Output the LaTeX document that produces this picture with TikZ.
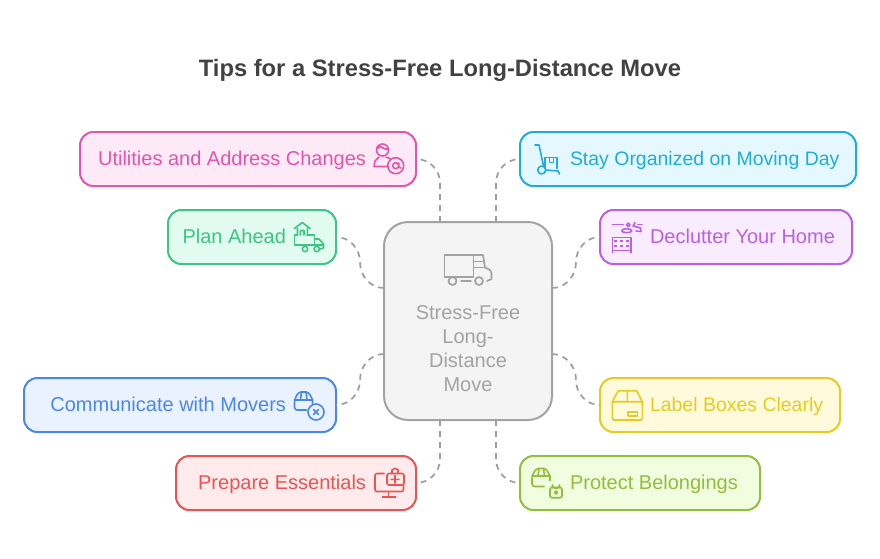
\documentclass[tikz,border=0pt]{standalone}
\usepackage{fontspec}
\setmainfont{Liberation Sans}
\definecolor{pinkline}{HTML}{E255A8}
\definecolor{pinkfill}{HTML}{FEEAF7}
\definecolor{greenline}{HTML}{3CC583}
\definecolor{greenfill}{HTML}{E2FBF0}
\definecolor{cyanline}{HTML}{1EADDA}
\definecolor{cyanfill}{HTML}{E5F8FF}
\definecolor{purpleline}{HTML}{BC5FE2}
\definecolor{purplefill}{HTML}{F9ECFF}
\definecolor{blueline}{HTML}{4A87E8}
\definecolor{bluefill}{HTML}{EBF2FF}
\definecolor{redline}{HTML}{E85454}
\definecolor{redfill}{HTML}{FFEBEB}
\definecolor{yellowline}{HTML}{E5CC1E}
\definecolor{yellowfill}{HTML}{FFFADB}
\definecolor{limeline}{HTML}{93BD3A}
\definecolor{limefill}{HTML}{F0FDDF}
\definecolor{hubline}{HTML}{A3A3A3}
\definecolor{hubfill}{HTML}{F4F4F4}
\definecolor{linkgray}{HTML}{9E9E9E}
\definecolor{titlegray}{HTML}{424242}
\tikzset{
  parcel/.pic={
    \draw[ico] (0,7.7) -- (18,7.7);
    \draw[ico] (7,0) -- (6,7.7) (11.5,0) -- (12.5,7.7);
    \draw[ico] (18,12) -- (18,7.7) [rounded corners=2pt] -- (14,0) -- (4,0) -- (0,7.7) -- (0,18) -- (12,18);
  },
}
\begin{document}
\begin{tikzpicture}[
  x=0.75pt, y=-0.75pt,
  every node/.style={font=\fontsize{15}{18}\selectfont},
  tip/.style 2 args={draw=#1, fill=#2, text=#1, line width=1.5pt, rounded corners=10pt,
    minimum height=40.5pt, inner xsep=0pt, inner ysep=0pt, outer sep=0pt,
    text height=12.5pt, text depth=2.5pt},
  tipl/.style={align=flush right, execute at end node=\hspace*{37.5pt}},
  tipr/.style={align=flush left, execute at begin node=\hspace*{37.5pt}},
  tight/.style={font=\fontsize{14.6}{18}\selectfont},
  link/.style={draw=linkgray, line width=1.3pt, dash pattern=on 4.5pt off 3.75pt},
  elbow/.style={link, rounded corners=18pt},
  ico/.style={line width=1.2pt, line join=round, line cap=round},
]
\useasboundingbox (0,0) rectangle (880,558);
\node[font=\fontsize{17.8}{22}\selectfont\bfseries, text=titlegray] (title) at (440,70) {Tips for a Stress-Free Long-Distance Move};

% hub in the middle
\node[draw=hubline, fill=hubfill, text=hubline, line width=1.5pt, rounded corners=18pt,
  minimum width=126pt, minimum height=148.5pt, text width=120pt, align=flush center,
  inner sep=0pt, outer sep=0pt] (hub) at (468,321)
  {\rule{0pt}{72.75pt}Stress-Free\\Long-\\Distance\\Move\rule[-21.75pt]{0pt}{0pt}};

% left column
\node[tip={pinkline}{pinkfill}, tipl, text width=252pt] (util) at (248,159) {Utilities and Address Changes};
\node[tip={greenline}{greenfill}, tipl, text width=126pt] (plan) at (252,237) {Plan Ahead};
\node[tip={blueline}{bluefill}, tipl, text width=234pt] (comm) at (180,405) {Communicate with Movers};
\node[tip={redline}{redfill}, tipl, text width=180pt] (prep) at (296,483) {Prepare Essentials};
% right column
\node[tip={cyanline}{cyanfill}, tipr, tight, text width=252pt] (stay) at (688,159) {Stay Organized on Moving Day};
\node[tip={purpleline}{purplefill}, tipr, text width=189pt] (decl) at (726,237) {Declutter Your Home};
\node[tip={yellowline}{yellowfill}, tipr, tight, text width=180pt] (lbl) at (720,405) {Label Boxes Clearly};
\node[tip={limeline}{limefill}, tipr, text width=180pt] (prot) at (640,483) {Protect Belongings};

% connectors start on the hub
\draw[elbow] ([shift={(-28,0)}]hub.north) |- (util.east);
\draw[elbow] ([shift={(28,0)}]hub.north) |- (stay.west);
\draw[elbow] ([shift={(-28,0)}]hub.south) |- (prep.east);
\draw[elbow] ([shift={(28,0)}]hub.south) |- (prot.west);
\coordinate (bendnw) at (360,262);
\coordinate (bendsw) at (360,380);
\coordinate (bendne) at (576,262);
\coordinate (bendse) at (576,380);
\draw[link] ([shift={(0,-33)}]hub.west) to[out=180, in=-90] (bendnw) to[out=90, in=0] (plan.east);
\draw[link] ([shift={(0,33)}]hub.west) to[out=180, in=90] (bendsw) to[out=-90, in=0] (comm.east);
\draw[link] ([shift={(0,-33)}]hub.east) to[out=0, in=-90] (bendne) to[out=90, in=180] (decl.west);
\draw[link] ([shift={(0,33)}]hub.east) to[out=0, in=90] (bendse) to[out=-90, in=180] (lbl.west);

% truck on the hub
\draw[ico, hubline, line width=1.3pt] (444.5,277) -- (444.5,255) -- (473.5,255) -- (473.5,277) -- (444.5,277);
\draw[ico, hubline, line width=1.3pt] (473.5,255) -- (483,255) -- (485,267.5) -- (490,270) -- (491.5,273) -- (491.5,279) -- (487,281);
\draw[ico, hubline, line width=1.3pt] (473.5,261.5) -- (484,261.5) (473.5,267.5) -- (485,267.5) (461,281) -- (471,281);
\draw[ico, hubline, line width=1.3pt] (452.5,281) circle (4) (479,281) circle (4);

% person with at sign
\draw[ico, pinkline] (382.5,150) circle (6) (377,149) -- (380,146.5) -- (385,149) -- (388,149);
\draw[ico, pinkline] (374,166.5) -- (388,166.5) (374,166.5) -- (375,161) -- (379,157) (386,157) -- (390,158.5);
\draw[ico, pinkline] (395.7,165.7) circle (8) (395.7,165.7) circle (3) (398.7,163) -- (398.7,167) -- (401,168);
% house on truck
\draw[ico, greenline] (294.3,228.5) -- (302.3,222.5) -- (310,228.5) (297.5,228.5) -- (297.5,235) (307.3,228.5) -- (307.3,235) (300.5,235) -- (300.5,230.5) -- (304,230.5) -- (304,235);
\draw[ico, greenline] (297.5,235) -- (294.3,235) -- (294.3,245) -- (323.5,245) (307,235) -- (314.3,235) -- (314.3,245);
\draw[ico, greenline] (314.3,239) -- (319,239) -- (323.5,244) -- (323.5,248) -- (320,249);
\draw[ico, greenline] (305,249) circle (2.7) (316.7,249) circle (2.7);
% hand truck with box
\draw[ico, cyanline] (535,145) -- (539,145) -- (543.5,166);
\draw[ico, cyanline] (541.7,170) circle (4) (545.7,170) -- (558,171) -- (559.5,174);
\draw[ico, cyanline] (545,168) -- (545,157.5) -- (556.7,157.5) -- (556.7,168.5) (549.3,157.5) -- (549.3,162.5) -- (553.3,162.5) -- (553.3,157.5);
% hangers over dresser
\draw[ico, purpleline] (612.3,224.3) -- (623.3,224.3) (637.7,224.3) -- (642,224.3);
\draw[ico, purpleline] (628.3,224.8) circle (1.8) (626.7,230.7) ellipse (5 and 2);
\draw[ico, purpleline] (635,222.5) -- (633,226) -- (640.5,228) -- (641,231.5) -- (636,231);
\draw[ico, purpleline] (612.3,237.5) rectangle (630.7,250.5) (612.3,250.5) -- (612.3,252.7) (630.7,250.5) -- (630.7,252.7);
\foreach \cx in {615.5,621.5,627.5} {
  \foreach \cy in {241,246} { \fill[purpleline] (\cx-1.3,\cy-1.3) rectangle (\cx+1.3,\cy+1.3); }
}
% parcel with cross
\pic[color=blueline] at (294.5,392) {parcel};
\draw[ico, blueline] (316,412) circle (8) (313.5,409.5) -- (318.5,414.5) (318.5,409.5) -- (313.5,414.5);
% monitor with kit
\draw[ico, redline] (384,473.5) -- (378,473.5) [rounded corners=1.5pt] -- (375,473.5) -- (375,491.5) -- (403.5,491.5) -- (403.5,485.5);
\draw[ico, redline] (388.3,491.7) -- (388.3,496.7) (382.3,496.7) -- (395.7,496.7);
\draw[ico, redline, rounded corners=1.5pt] (387,473.5) rectangle (404,485);
\draw[ico, redline] (392,473.5) -- (392,470) -- (395,468.3) -- (398,470) -- (398,473.5) (391,479.3) -- (399,479.3) (395,475.5) -- (395,483);
% carton with label
\draw[ico, yellowline, rounded corners=1pt] (612.3,401.7) rectangle (642.3,420);
\draw[ico, yellowline] (612.3,401.7) -- (618.3,390.7) -- (636.7,390.7) -- (642.3,401.7) (627.3,390.7) -- (627.3,401.7);
\draw[ico, yellowline] (627.7,411.7) rectangle (637.3,416);
% parcel with lock
\pic[color=limeline] at (532,468.5) {parcel};
\draw[ico, limeline, rounded corners=1.5pt] (550,487.5) rectangle (562,497.7);
\draw[ico, limeline] (552.5,487.5) -- (552.5,485) arc[start angle=180, end angle=0, radius=3.5] -- (559.5,487.5);
\draw[ico, limeline] (556,492.5) circle (1.5);
\end{tikzpicture}
\end{document}
